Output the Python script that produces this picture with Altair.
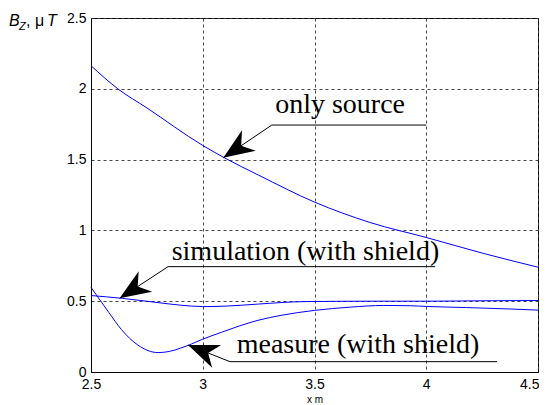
import math
import altair as alt
import pandas as pd

# ---- data ----
src_x = [2.5, 2.62, 2.75, 3.0, 3.1, 3.25, 3.5, 3.75, 4.0, 4.25, 4.5]
src_y = [2.163, 2.0, 1.865, 1.60, 1.51, 1.39, 1.20, 1.055, 0.95, 0.84, 0.74]

sim_x = [2.5, 2.64, 2.8, 2.9, 3.0, 3.1, 3.25, 3.45, 3.75, 4.0, 4.25, 4.5]
sim_y = [0.54, 0.52, 0.49, 0.472, 0.462, 0.465, 0.48, 0.497, 0.50, 0.50, 0.503, 0.505]

meas_x = [2.5, 2.524, 2.58, 2.636, 2.71, 2.8, 2.85, 2.9, 2.95, 3.0, 3.083, 3.158,
          3.247, 3.35, 3.5, 3.66, 3.81, 3.93, 4.0, 4.18, 4.375, 4.5]
meas_y = [0.598, 0.544, 0.42, 0.30, 0.19, 0.137, 0.145, 0.168, 0.198, 0.232, 0.28, 0.322,
          0.365, 0.40, 0.435, 0.458, 0.47, 0.468, 0.463, 0.455, 0.445, 0.437]

# annotations
ann_text = ["only source", "simulation (with shield)", "measure (with shield)"]
ann_text_x = [3.324, 2.861, 3.152]
ann_text_y = [1.831, 0.791, 0.134]
ann_line_x1 = [3.309, 2.845, 3.122]
ann_line_x2 = [4.0, 4.04, 4.317]
ann_line_y = [1.744, 0.744, 0.073]
ann_tip_x = [3.092, 2.628, 2.934]
ann_tip_y = [1.513, 0.52, 0.19]

x_ticks = [2.5, 3, 3.5, 4, 4.5]
y_ticks = [0, 0.5, 1, 1.5, 2, 2.5]

# ---- layout ----
W, H = 447, 354
XD = [2.5, 4.5]
YD = [0, 2.5]
PX_X = W / (XD[1] - XD[0])
PX_Y = H / (YD[1] - YD[0])

lines = pd.DataFrame(
    [{"series": "only source", "x": a, "y": b} for a, b in zip(src_x, src_y)]
    + [{"series": "simulation", "x": a, "y": b} for a, b in zip(sim_x, sim_y)]
    + [{"series": "measure", "x": a, "y": b} for a, b in zip(meas_x, meas_y)]
)

segs = []
heads = []
for i in range(len(ann_text)):
    segs.append({"x": ann_line_x1[i], "y": ann_line_y[i], "x2": ann_line_x2[i], "y2": ann_line_y[i]})
    segs.append({"x": ann_line_x1[i], "y": ann_line_y[i], "x2": ann_tip_x[i], "y2": ann_tip_y[i]})
    dx = (ann_tip_x[i] - ann_line_x1[i]) * PX_X
    dy = -(ann_tip_y[i] - ann_line_y[i]) * PX_Y
    ang = math.degrees(math.atan2(dx, -dy)) % 360
    heads.append({"x": ann_tip_x[i], "y": ann_tip_y[i], "angle": ang})
segs = pd.DataFrame(segs)
heads = pd.DataFrame(heads)
texts = pd.DataFrame({"label": ann_text, "x": ann_text_x, "y": ann_text_y})

xs = alt.Scale(domain=XD, nice=False, zero=False)
ys = alt.Scale(domain=YD, nice=False, zero=False)

x_axis = alt.Axis(values=x_ticks, format="~g", title="x m", grid=True, ticks=False,
                  labelFlush=False, labelPadding=5, labelFontSize=14,
                  labelAlign={"condition": {"test": "datum.value == 4.5", "value": "right"},
                              "value": "center"},
                  labelOffset={"condition": {"test": "datum.value == 4.5", "value": 1},
                               "value": 0},
                  labelFont="Liberation Sans", labelColor="black",
                  titleFontSize=10, titleFont="Liberation Sans",
                  titleFontWeight="normal", titleColor="black", titleY=22,
                  titleBaseline="top")
y_axis = alt.Axis(values=y_ticks, format="~g", title=None, grid=True, ticks=False,
                  labelFlush=False, labelPadding=5, labelFontSize=14,
                  labelFont="Liberation Sans", labelColor="black")

line_layer = alt.Chart(lines).mark_line(color="#0000ff", strokeWidth=1,
                                        interpolate="monotone").encode(
    x=alt.X("x:Q", scale=xs, axis=x_axis),
    y=alt.Y("y:Q", scale=ys, axis=y_axis),
    detail="series:N",
)

seg_layer = alt.Chart(segs).mark_rule(color="black", strokeWidth=1).encode(
    x=alt.X("x:Q", scale=xs), y=alt.Y("y:Q", scale=ys),
    x2="x2:Q", y2="y2:Q",
)

head_layer = alt.Chart(heads).mark_point(
    shape="M0,0 L0.4,1 L0,0.7 L-0.4,1 Z", size=3800, filled=True,
    color="black", opacity=1, strokeWidth=0,
).encode(
    x=alt.X("x:Q", scale=xs), y=alt.Y("y:Q", scale=ys),
    angle=alt.Angle("angle:Q", scale=None),
)

text_layer = alt.Chart(texts).mark_text(
    font="Liberation Serif", fontSize=28, align="left", baseline="alphabetic", color="black"
).encode(
    x=alt.X("x:Q", scale=xs), y=alt.Y("y:Q", scale=ys), text="label:N",
)

one = alt.Data(values=[{}])
tB = alt.Chart(one).mark_text(font="Liberation Sans", fontSize=16, fontStyle="italic",
                              align="left", baseline="alphabetic", color="black").encode(
    x=alt.value(-82), y=alt.value(8), text=alt.value("B"))
tZ = alt.Chart(one).mark_text(font="Liberation Sans", fontSize=11, fontStyle="italic",
                              align="left", baseline="alphabetic", color="black").encode(
    x=alt.value(-72), y=alt.value(12), text=alt.value("Z"))
tMu = alt.Chart(one).mark_text(font="Liberation Sans", fontSize=16,
                               align="left", baseline="alphabetic", color="black").encode(
    x=alt.value(-65), y=alt.value(8), text=alt.value(", μ"))
tT = alt.Chart(one).mark_text(font="Liberation Sans", fontSize=16, fontStyle="italic",
                              align="left", baseline="alphabetic", color="black").encode(
    x=alt.value(-44), y=alt.value(8), text=alt.value("T"))

chart = alt.layer(line_layer, seg_layer, head_layer, text_layer, tB, tZ, tMu, tT).properties(
    width=W, height=H,
    autosize=alt.AutoSizeParams(type="none"),
    padding={"left": 83, "top": 10, "right": 1, "bottom": 42},
    background="white",
).configure_view(stroke="black", strokeWidth=1).configure_axis(
    gridColor="#333333", gridDash=[3, 3], gridOpacity=0.9, gridWidth=1,
    domainColor="black", domainWidth=1,
)

chart.save("out.html", embed_options={"renderer": "svg", "actions": False})
